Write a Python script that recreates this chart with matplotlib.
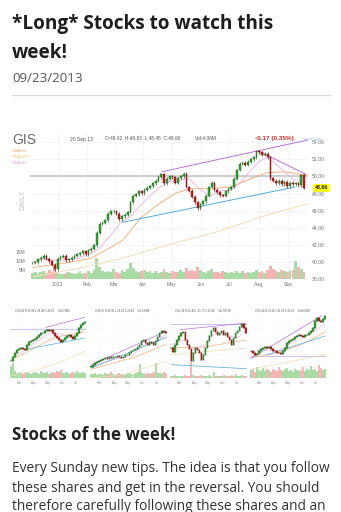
import numpy as np
import pandas as pd
import matplotlib
matplotlib.use("Agg")
import matplotlib.pyplot as plt
import matplotlib.dates as mdates
from matplotlib.ticker import FuncFormatter
from matplotlib.lines import Line2D
import matplotlib.transforms as mtrans

W, H = 341, 512
fig = plt.figure(figsize=(W / 100, H / 100), dpi=100)
fig.patch.set_facecolor("white")

# ------------------------------------------------------------------ data
page_title = ["*Long* Stocks to watch this", "week!"]
post_date = "09/23/2013"
section_title = "Stocks of the week!"
body_lines = ["Every Sunday new tips. The idea is that you follow",
              "these shares and get in the reversal. You should",
              "therefore carefully following these shares and an"]

ticker = "GIS"
header_date = "20 Sep 13"
header_ohlc = "O:48.82  H:48.83  L:48.45  C:48.66"
header_vol = "Vol:4.06M"
header_change = "-0.17 (0.35%)"
source_label = "\u00a9 mvw.com"
sma_labels = ["SMA 50", "SMA 200", "SMA 20"]
last_price = 48.66

gis_close = [39.90, 40.00, 40.32, 40.53, 40.74, 40.42, 40.11, 39.69, 39.17, 40.42,
             40.63, 40.74, 40.21, 40.32, 40.53, 40.74, 40.94, 41.05, 41.26, 40.94,
             41.36, 41.57, 41.99, 43.44, 44.49, 44.59, 44.90, 45.63, 45.95, 45.95,
             45.63, 45.01, 45.32, 45.53, 45.84, 46.99, 47.72, 47.92, 48.24, 48.03,
             48.45, 48.65, 48.86, 49.18, 49.49, 49.90, 50.22, 49.18, 49.70, 50.01,
             49.90, 49.28, 49.80, 50.01, 50.32, 48.76, 48.34, 47.61, 46.99, 46.26,
             46.78, 47.09, 47.72, 48.76, 49.28, 48.45, 48.13, 47.82, 47.72, 48.24,
             48.55, 48.76, 49.70, 50.74, 51.47, 51.57, 51.36, 51.68, 51.99, 52.20,
             52.93, 52.82, 52.51, 52.61, 52.20, 49.80, 49.49, 49.18, 49.49, 49.07,
             49.38, 48.86, 49.28, 49.07, 49.18, 48.97, 50.11, 48.66]
gis_volume = [3.5, 4.2, 3.0, 3.8, 4.5, 3.2, 5.0, 4.1, 6.5, 3.6,
              3.1, 2.8, 3.4, 4.0, 3.3, 2.9, 3.7, 4.4, 3.0, 3.5,
              4.8, 3.6, 5.2, 11.5, 7.0, 4.3, 3.9, 4.6, 3.8, 5.5,
              4.2, 3.7, 4.9, 4.1, 5.8, 9.0, 6.2, 4.4, 3.8, 4.7,
              5.1, 3.9, 4.3, 3.6, 4.8, 3.5, 4.0, 5.6, 4.2, 3.7,
              4.5, 3.8, 4.1, 5.3, 3.9, 6.0, 4.6, 5.0, 4.4, 6.5,
              5.2, 4.0, 3.6, 4.3, 5.5, 3.8, 4.1, 3.4, 4.6, 3.9,
              3.5, 4.2, 3.3, 4.8, 3.7, 4.4, 3.2, 3.9, 3.6, 4.1,
              4.9, 3.8, 4.5, 3.6, 5.1, 7.5, 5.8, 4.6, 4.2, 5.0,
              4.7, 3.9, 4.4, 5.2, 10.0, 6.8, 5.5, 4.06]
price_ticks = [38, 40, 42, 44, 46, 48, 50, 52, 54]
volume_ticks = [5, 10, 15]
volume_tick_labels = ["5M", "10M", "15M"]

sma20_dates = ["2012-12-06", "2012-12-18", "2013-01-03", "2013-01-19", "2013-02-04",
               "2013-02-14", "2013-02-25", "2013-03-08", "2013-03-18", "2013-03-29",
               "2013-04-08", "2013-04-19", "2013-04-29", "2013-05-10", "2013-05-20",
               "2013-05-31", "2013-06-11", "2013-06-21", "2013-07-02", "2013-07-12",
               "2013-07-23", "2013-08-02", "2013-08-11", "2013-08-18", "2013-08-29",
               "2013-09-08", "2013-09-19"]
sma20_vals = [40.11, 40.32, 40.21, 40.32, 40.94, 41.67, 43.03, 44.59, 45.32, 46.57,
              47.72, 48.76, 49.38, 49.59, 49.70, 48.45, 47.72, 48.34, 48.34, 49.18,
              50.63, 51.78, 52.20, 51.57, 50.43, 49.49, 49.38]
sma50_dates = ["2012-12-06", "2013-01-03", "2013-02-04", "2013-02-25", "2013-03-11",
               "2013-03-29", "2013-04-16", "2013-05-05", "2013-05-20", "2013-06-11",
               "2013-07-02", "2013-07-23", "2013-08-10", "2013-08-29", "2013-09-21"]
sma50_vals = [39.38, 39.80, 40.42, 41.67, 42.60, 45.11, 46.67, 48.03, 48.55, 48.55,
              48.76, 49.70, 50.43, 50.53, 50.11]
sma200_dates = ["2012-12-06", "2013-01-24", "2013-03-08", "2013-04-08", "2013-05-10",
                "2013-06-11", "2013-07-12", "2013-08-13", "2013-09-22"]
sma200_vals = [38.3, 39.3, 40.4, 41.4, 42.4, 43.3, 44.4, 45.6, 46.8]

channel_top_dates = ["2013-04-21", "2013-09-22"]
channel_top_vals = [50.54, 54.24]
channel_down_dates = ["2013-08-02", "2013-09-20"]
channel_down_vals = [52.87, 50.24]
support_dates = ["2013-03-10", "2013-09-08"]
support_vals = [44.64, 48.75]
resistance_level = 50.0

# mini charts
mini_headers = ["O:36.82 H:36.98 L:36.40 C:36.68     Vol:3.58M",
                "O:26.87 H:26.95 L:26.54 C:26.60     Vol:2.88M",
                "O:32.18 H:32.40 L:31.77 C:31.88     Vol:758.9K",
                "O:31.34 H:31.92 L:31.28 C:31.86     Vol:8.82M"]
m1_close = [30, 36, 43, 47, 48, 50, 48, 46.5, 55, 59, 61, 62, 64, 67, 70, 72, 73, 75, 77, 76,
            77, 72, 68, 65, 62, 58.5, 62, 65, 68, 69, 67, 63, 68, 72, 80, 85, 87, 89]
m2_close = [22, 24, 27, 29, 30, 32, 33, 35, 34, 36, 35, 37, 36, 38, 37, 35, 37, 39, 40, 43,
            45, 47, 49, 52, 55, 60, 62, 58, 55, 59, 57, 55, 60, 66, 72, 76, 74, 73]
m3_close = [50, 44, 55, 62, 68, 72, 74, 62, 55, 48, 30, 42, 50, 47, 42, 32, 40, 50, 60, 68,
            76, 80, 74, 70, 72, 75, 70, 72, 66, 62, 55, 65, 72, 76, 82, 86, 80, 72]
m4_close = [45, 43, 40, 41, 45, 48, 50, 52, 50, 51, 48, 46, 45, 43, 42, 41, 46, 50, 57, 60,
            62, 64, 66, 68, 70, 68, 66, 69, 70, 73, 76, 80, 90, 95, 91, 89, 94, 98]
m1_volume = [2.2, 2.8, 1.4, 1.0, 0.9, 1.1, 0.8, 1.0, 1.2, 0.9, 0.8, 1.0, 1.1, 0.9, 0.8, 1.3,
             1.0, 0.9, 1.1, 0.8, 0.9, 1.2, 1.0, 1.4, 1.1, 1.6, 1.0, 0.9, 1.2, 0.8, 1.0, 1.1,
             0.9, 1.3, 1.0, 0.9, 1.2, 1.0]
m2_volume = [0.8, 0.7, 0.9, 0.6, 0.8, 0.7, 0.6, 0.9, 0.7, 0.8, 1.2, 0.7, 0.6, 0.8, 0.9, 0.7,
             0.8, 0.6, 0.7, 1.0, 0.8, 0.7, 0.9, 1.1, 2.6, 0.9, 0.8, 0.7, 1.0, 0.8, 0.9, 1.2,
             2.9, 1.0, 0.9, 0.8, 1.1, 0.9]
m3_volume = [0.4, 0.3, 0.5, 0.3, 0.4, 0.3, 0.4, 0.5, 0.3, 0.4, 3.0, 0.5, 0.4, 0.3, 0.4, 0.5,
             0.3, 0.4, 0.3, 0.5, 0.4, 1.2, 0.4, 0.3, 0.4, 0.3, 0.5, 0.4, 0.3, 0.4, 0.5, 0.3,
             0.8, 0.4, 0.3, 0.5, 0.4, 0.3]
m4_volume = [1.5, 1.8, 1.2, 2.0, 1.6, 1.4, 1.9, 1.3, 1.7, 1.5, 1.2, 1.8, 1.6, 1.4, 2.1, 1.5,
             1.3, 1.7, 1.9, 1.4, 1.6, 1.2, 1.8, 1.5, 1.3, 1.6, 2.0, 1.4, 1.7, 1.5, 2.2, 1.6,
             1.8, 1.4, 2.4, 1.9, 1.6, 1.8]
m1_top_dates, m1_top_vals = ["2013-04-27", "2013-07-19"], [81, 96]
m2_top_dates, m2_top_vals = ["2013-02-12", "2013-07-20"], [25, 75]
m3_top_dates, m3_top_vals = ["2013-03-02", "2013-07-20"], [77.5, 87.5]
m4_top_dates, m4_top_vals = ["2013-02-11", "2013-07-13"], [34.5, 98.5]
m1_sup_dates, m1_sup_vals = ["2013-03-12", "2013-07-19"], [47.5, 65]
m2_sup_dates, m2_sup_vals = ["2013-02-12", "2013-07-20"], [20, 66]
m3_sup_dates, m3_sup_vals = ["2013-02-12", "2013-07-20"], [25, 19]
m4_sup_dates, m4_sup_vals = ["2013-03-16", "2013-07-20"], [39.5, 68]
m_hlines = [78.5, None, 86, 38]
m1_s20_d = ["2013-02-11", "2013-03-01", "2013-04-01", "2013-05-01", "2013-05-25", "2013-06-15", "2013-07-05", "2013-07-20"]
m1_s20_v = [33, 42, 57, 71, 72, 66, 70, 80]
m1_s50_d = ["2013-02-20", "2013-03-12", "2013-04-15", "2013-05-20", "2013-06-20", "2013-07-19"]
m1_s50_v = [35, 42, 55, 67, 70, 74]
m1_s200_d = ["2013-02-11", "2013-04-13", "2013-06-01", "2013-07-19"]
m1_s200_v = [8, 18, 30, 45]
m2_s20_d = ["2013-02-11", "2013-03-15", "2013-04-15", "2013-05-10", "2013-06-05", "2013-07-01", "2013-07-20"]
m2_s20_v = [22, 30, 35, 40, 55, 60, 70]
m2_s50_d = ["2013-02-11", "2013-04-01", "2013-05-15", "2013-07-20"]
m2_s50_v = [18, 28, 36, 56]
m2_s200_d = ["2013-02-11", "2013-04-20", "2013-07-20"]
m2_s200_v = [5, 10, 30]
m3_s20_d = ["2013-02-11", "2013-03-10", "2013-04-01", "2013-04-25", "2013-05-15", "2013-06-10", "2013-07-01", "2013-07-20"]
m3_s20_v = [55, 62, 47, 55, 72, 70, 65, 75]
m3_s50_d = ["2013-02-11", "2013-04-25", "2013-07-20"]
m3_s50_v = [50, 52, 62]
m3_s200_d = ["2013-02-11", "2013-07-20"]
m3_s200_v = [40, 50]
m4_s20_d = ["2013-02-11", "2013-03-10", "2013-04-10", "2013-05-10", "2013-06-10", "2013-07-20"]
m4_s20_v = [44, 48, 45, 58, 68, 86]
m4_s50_d = ["2013-02-11", "2013-04-15", "2013-06-01", "2013-07-20"]
m4_s50_v = [35, 44, 56, 74]
m4_s200_d = ["2013-02-11", "2013-07-20"]
m4_s200_v = [18, 40]

# ------------------------------------------------------------------ styles
UP, UP_E = "#35a535", "#175f17"
DN, DN_E = "#cc2020", "#6a0c0c"
VUP, VDN = "#a9dca4", "#f4b4b4"
C_SMA20, C_SMA50, C_SMA200 = "#f0aee0", "#f5a66c", "#f3dcb4"
C_PURPLE, C_BLUE, C_GRAY, C_LAV = "#bb70d3", "#55aad8", "#cdcdcd", "#c4b8ee"
CHART_FONT = ["Liberation Sans", "DejaVu Sans"]
PAGE_FONT = ["Open Sans", "DejaVu Sans"]


def px_axes(x0, y0, x1, y1):
    return fig.add_axes([x0 / W, 1 - y1 / H, (x1 - x0) / W, (y1 - y0) / H])


def ftext(x, y, s, **kw):
    return fig.text(x / W, 1 - y / H, s, **kw)


def d(lst):
    return pd.to_datetime(lst)


def draw_candles(ax, dates, closes, body_w, wick, lw, min_h):
    closes = np.asarray(closes, float)
    opens = np.r_[closes[0], closes[:-1]]
    up = closes >= opens
    lo, hi = np.minimum(opens, closes), np.maximum(opens, closes)
    ax.vlines(dates, lo - wick, hi + wick, colors=np.where(up, UP_E, DN_E), lw=lw, zorder=4)
    ax.bar(dates, np.maximum(hi - lo, min_h), bottom=lo, width=body_w,
           color=np.where(up, UP, DN), edgecolor=np.where(up, UP_E, DN_E),
           linewidth=lw * 0.7, zorder=5)
    return up


def fit_width(texts, target):
    fig.canvas.draw()
    r = fig.canvas.get_renderer()
    w = texts[0].get_window_extent(r).width
    fs = texts[0].get_fontsize() * target / w
    for t in texts:
        t.set_fontsize(fs)


# ------------------------------------------------------------------ page text
t1 = ftext(12, 29.5, page_title[0], fontsize=14, fontweight="bold", family=PAGE_FONT, color="#1e1e1e")
t2 = ftext(12, 58.5, page_title[1], fontsize=14, fontweight="bold", family=PAGE_FONT, color="#1e1e1e")
fit_width([t1, t2], 263)
td = ftext(12, 82.5, post_date, fontsize=9, family=PAGE_FONT, color="#555555")
fit_width([td], 71)
fig.add_artist(Line2D([12 / W, 330 / W], [1 - 95 / H] * 2, color="#dcdcdc", lw=0.9))

ts = ftext(12, 440, section_title, fontsize=12, fontweight="bold", family=PAGE_FONT, color="#222222")
fit_width([ts], 163)
body = [ftext(12, y, s, fontsize=10, family=PAGE_FONT, color="#333333")
        for y, s in zip([472.5, 492.0, 510.5], body_lines)]
fit_width(body, 318)

# ------------------------------------------------------------------ main chart
dates = pd.date_range("2012-12-05", periods=len(gis_close), freq="71h")
x0, x1, ytop, ybot = 29.6, 307.9, 133.0, 279.3
xlim = (pd.Timestamp("2012-12-02"), pd.Timestamp("2013-09-22"))

ax_v = px_axes(x0, ytop, x1, ybot)
ax = px_axes(x0, ytop, x1, ybot)
ax.patch.set_alpha(0)

up = draw_candles(ax, dates, gis_close, 1.9, 0.17, 0.45, 0.05)
ax_v.bar(dates, gis_volume, width=2.9, color=np.where(up, VUP, VDN), lw=0)
ax_v.set_ylim(0, 80.4)
ax_v.set_xlim(*xlim)
ax_v.set_yticks(volume_ticks)
ax_v.set_yticklabels(volume_tick_labels)
ax_v.tick_params(axis="y", length=0, pad=3.0, labelsize=3.6, labelcolor="#777777")
ax_v.set_xticks([])
for s in ax_v.spines.values():
    s.set_visible(False)
for lab in ax_v.get_yticklabels():
    lab.set_family(CHART_FONT)

ax.plot(d(sma200_dates), sma200_vals, color=C_SMA200, lw=0.7, zorder=2)
ax.plot(d(sma50_dates), sma50_vals, color=C_SMA50, lw=0.6, zorder=2)
ax.plot(d(sma20_dates), sma20_vals, color=C_SMA20, lw=0.6, zorder=2)
ax.axhline(resistance_level, color=C_GRAY, lw=1.4, zorder=1)
ax.plot(d(channel_top_dates), channel_top_vals, color=C_PURPLE, lw=0.7, zorder=3)
ax.plot(d(channel_down_dates), channel_down_vals, color=C_PURPLE, lw=0.7, zorder=3)
ax.plot(d(support_dates), support_vals, color=C_BLUE, lw=0.7, zorder=3)

ax.set_xlim(*xlim)
ax.set_ylim(38, 38 + (ybot - ytop) / 8.58)
ax.yaxis.tick_right()
ax.set_yticks(price_ticks)
ax.set_yticklabels([f"{v:.2f}" for v in price_ticks])
ax.xaxis.set_major_locator(mdates.MonthLocator())
ax.xaxis.set_major_formatter(FuncFormatter(
    lambda v, p: str(mdates.num2date(v).year) if mdates.num2date(v).month == 1
    else mdates.num2date(v).strftime("%b")))
ax.tick_params(length=0, labelsize=3.7, labelcolor="#777777")
ax.tick_params(axis="y", pad=3.0)
ax.tick_params(axis="x", pad=2.2)
for lab in ax.get_xticklabels() + ax.get_yticklabels():
    lab.set_family(CHART_FONT)
ax.grid(True, ls=(0, (1, 1.5)), color="#dedede", lw=0.5)
ax.set_axisbelow(True)
for s in ax.spines.values():
    s.set_visible(False)

# last price tag
tr = mtrans.blended_transform_factory(ax.transAxes, ax.transData)
ax.text((321.5 - x0) / (x1 - x0), last_price, f"{last_price:.2f}", transform=tr,
        ha="center", va="center", fontsize=3.8, fontweight="bold", family=CHART_FONT,
        color="#222222", bbox=dict(boxstyle="square,pad=0.25", fc="#ffff1a", ec="none"))

# header texts
ftext(12.5, 144.5, ticker, fontsize=10, family=CHART_FONT, color="#6a6a6a")
ftext(70, 139, header_date, fontsize=3.6, family=CHART_FONT, color="#555555", va="center")
ftext(105, 139, header_ohlc, fontsize=3.4, family=CHART_FONT, color="#555555", va="center")
ftext(195, 139, header_vol, fontsize=3.5, family=CHART_FONT, color="#555555", va="center")
ftext(255, 138.5, header_change, fontsize=4.6, fontweight="bold", family=CHART_FONT,
      color="#cc2a2a", va="center")
ftext(300, 138.5, source_label, fontsize=3.0, family=CHART_FONT, color="#9cc6e0", va="center")
for yy, lab, c in zip([151, 157.5, 163.5], sma_labels, [C_SMA50, "#f3c47e", "#e69ce0"]):
    ftext(12, yy, lab, fontsize=3.0, family=CHART_FONT, color=c, va="center")
ftext(23, 200, "DAILY", fontsize=5.0, fontweight="bold", family=CHART_FONT,
      color="#d2d2d2", rotation=90, ha="center", va="center")

# ------------------------------------------------------------------ mini charts
mini_dates = pd.date_range("2013-02-11", periods=38, freq="103h")
mxlim = (pd.Timestamp("2013-02-09"), pd.Timestamp("2013-07-22"))
panels = [
    (10, 86, m1_close, m1_volume, (m1_top_dates, m1_top_vals), (m1_sup_dates, m1_sup_vals),
     (m1_s20_d, m1_s20_v), (m1_s50_d, m1_s50_v), (m1_s200_d, m1_s200_v)),
    (90, 167, m2_close, m2_volume, (m2_top_dates, m2_top_vals), (m2_sup_dates, m2_sup_vals),
     (m2_s20_d, m2_s20_v), (m2_s50_d, m2_s50_v), (m2_s200_d, m2_s200_v)),
    (170, 247, m3_close, m3_volume, (m3_top_dates, m3_top_vals), (m3_sup_dates, m3_sup_vals),
     (m3_s20_d, m3_s20_v), (m3_s50_d, m3_s50_v), (m3_s200_d, m3_s200_v)),
    (250, 326, m4_close, m4_volume, (m4_top_dates, m4_top_vals), (m4_sup_dates, m4_sup_vals),
     (m4_s20_d, m4_s20_v), (m4_s50_d, m4_s50_v), (m4_s200_d, m4_s200_v)),
]
for i, (px0, px1, cl, vol, top, sup, s20, s50, s200) in enumerate(panels):
    mv = px_axes(px0, 314.7, px1, 378)
    ma = px_axes(px0, 314.7, px1, 378)
    ma.patch.set_alpha(0)
    mup = draw_candles(ma, mini_dates, cl, 2.6, 1.5, 0.35, 0.6)
    mv.bar(mini_dates, vol, width=4.2, color=np.where(mup, VUP, VDN), lw=0)
    mv.set_ylim(0, 12)
    mv.set_xlim(*mxlim)
    mv.axis("off")
    ma.plot(d(s200[0]), s200[1], color=C_SMA200, lw=0.5, zorder=2)
    ma.plot(d(s50[0]), s50[1], color=C_SMA50, lw=0.45, zorder=2)
    ma.plot(d(s20[0]), s20[1], color=C_SMA20, lw=0.45, zorder=2)
    if m_hlines[i] is not None:
        ma.axhline(m_hlines[i], color=C_LAV, lw=0.6, zorder=1)
    ma.plot(d(top[0]), top[1], color=C_PURPLE, lw=0.5, zorder=3)
    ma.plot(d(sup[0]), sup[1], color=C_BLUE, lw=0.5, zorder=3)
    ma.set_xlim(*mxlim)
    ma.set_ylim(5, 100)
    ma.xaxis.set_major_locator(mdates.MonthLocator(bymonth=[3, 4, 5, 6, 7]))
    ma.xaxis.set_major_formatter(mdates.DateFormatter("%b"))
    ma.set_yticks([20, 40, 60, 80])
    ma.set_yticklabels([])
    ma.tick_params(length=0, labelsize=2.3, labelcolor="#8a8a8a", pad=2.5)
    for lab in ma.get_xticklabels():
        lab.set_family(CHART_FONT)
    ma.grid(True, ls=(0, (1, 1.5)), color="#e6e6e6", lw=0.35)
    ma.set_axisbelow(True)
    for s in ma.spines.values():
        s.set_visible(False)
    ftext(px0 + 5, 310.7, mini_headers[i], fontsize=1.9, family=CHART_FONT,
          color="#555555", va="center")

fig.savefig("out.png", dpi=100, facecolor="white")
